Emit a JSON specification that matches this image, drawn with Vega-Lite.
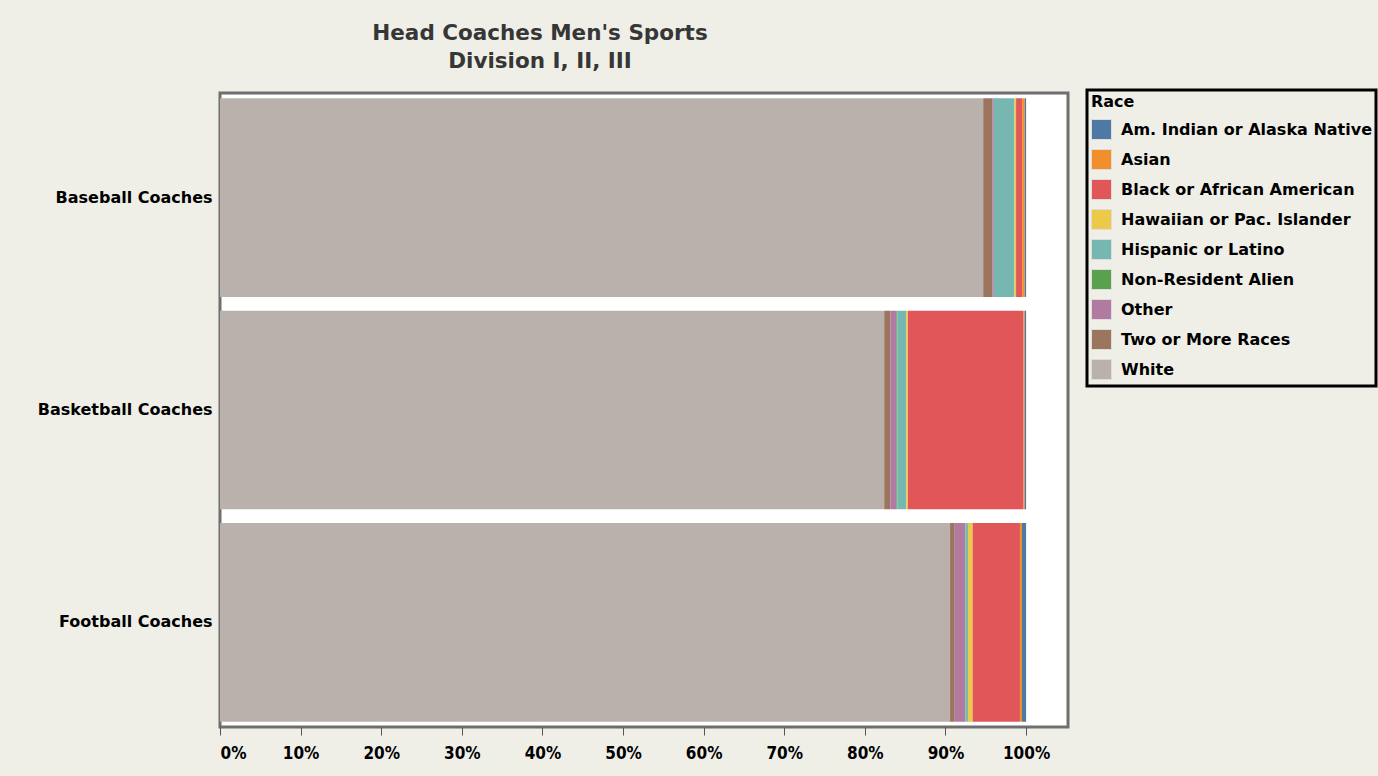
{
  "$schema": "https://vega.github.io/schema/vega-lite/v6.json",
  "width": 848,
  "height": 634,
  "autosize": "none",
  "padding": {"left": 220, "top": 93, "right": 310, "bottom": 49},
  "background": "#efefe8",
  "title": {
    "text": ["Head Coaches Men's Sports", "Division I, II, III"],
    "anchor": "middle",
    "frame": "group",
    "dx": -104,
    "offset": 16,
    "font": "DejaVu Sans",
    "fontSize": 21.5,
    "fontWeight": "bold",
    "color": "#363636",
    "lineHeight": 28
  },
  "data": {
    "values": [
      {"Sport": "Baseball Coaches", "Race": "White", "Share": 0.9468},
      {"Sport": "Baseball Coaches", "Race": "Two or More Races", "Share": 0.0116},
      {"Sport": "Baseball Coaches", "Race": "Other", "Share": 0.0016},
      {"Sport": "Baseball Coaches", "Race": "Hispanic or Latino", "Share": 0.0256},
      {"Sport": "Baseball Coaches", "Race": "Hawaiian or Pac. Islander", "Share": 0.002},
      {"Sport": "Baseball Coaches", "Race": "Black or African American", "Share": 0.0075},
      {"Sport": "Baseball Coaches", "Race": "Asian", "Share": 0.0033},
      {"Sport": "Baseball Coaches", "Race": "Am. Indian or Alaska Native", "Share": 0.0016},
      {"Sport": "Basketball Coaches", "Race": "White", "Share": 0.824},
      {"Sport": "Basketball Coaches", "Race": "Two or More Races", "Share": 0.0075},
      {"Sport": "Basketball Coaches", "Race": "Other", "Share": 0.0075},
      {"Sport": "Basketball Coaches", "Race": "Non-Resident Alien", "Share": 0.0012},
      {"Sport": "Basketball Coaches", "Race": "Hispanic or Latino", "Share": 0.0112},
      {"Sport": "Basketball Coaches", "Race": "Hawaiian or Pac. Islander", "Share": 0.002},
      {"Sport": "Basketball Coaches", "Race": "Black or African American", "Share": 0.1434},
      {"Sport": "Basketball Coaches", "Race": "Asian", "Share": 0.0016},
      {"Sport": "Basketball Coaches", "Race": "Am. Indian or Alaska Native", "Share": 0.0016},
      {"Sport": "Football Coaches", "Race": "White", "Share": 0.9057},
      {"Sport": "Football Coaches", "Race": "Two or More Races", "Share": 0.0058},
      {"Sport": "Football Coaches", "Race": "Other", "Share": 0.0128},
      {"Sport": "Football Coaches", "Race": "Non-Resident Alien", "Share": 0.0003},
      {"Sport": "Football Coaches", "Race": "Hispanic or Latino", "Share": 0.0033},
      {"Sport": "Football Coaches", "Race": "Hawaiian or Pac. Islander", "Share": 0.0058},
      {"Sport": "Football Coaches", "Race": "Black or African American", "Share": 0.0587},
      {"Sport": "Football Coaches", "Race": "Asian", "Share": 0.0025},
      {"Sport": "Football Coaches", "Race": "Am. Indian or Alaska Native", "Share": 0.0051}
    ]
  },
  "mark": {"type": "bar"},
  "encoding": {
    "y": {
      "field": "Sport",
      "type": "nominal",
      "sort": ["Baseball Coaches", "Basketball Coaches", "Football Coaches"],
      "scale": {"paddingInner": 0.065, "paddingOuter": 0.025},
      "axis": {
        "title": null,
        "ticks": false,
        "domain": false,
        "labelPadding": 8,
        "labelFont": "DejaVu Sans",
        "labelFontWeight": "bold",
        "labelFontSize": 16,
        "labelColor": "#000000"
      }
    },
    "x": {
      "field": "Share",
      "type": "quantitative",
      "stack": "zero",
      "scale": {"domain": [0, 1.052], "nice": false},
      "axis": {
        "title": null,
        "values": [0, 0.1, 0.2, 0.3, 0.4, 0.5, 0.6, 0.7, 0.8, 0.9, 1.0],
        "format": ".0%",
        "grid": false,
        "domain": false,
        "tickColor": "#555555",
        "tickSize": 8,
        "labelPadding": 10,
        "labelFont": "DejaVu Sans Condensed",
        "labelFontWeight": "bold",
        "labelFontSize": 17,
        "labelColor": "#000000",
        "labelFlush": true
      }
    },
    "color": {
      "field": "Race",
      "type": "nominal",
      "scale": {
        "domain": ["Am. Indian or Alaska Native", "Asian", "Black or African American", "Hawaiian or Pac. Islander", "Hispanic or Latino", "Non-Resident Alien", "Other", "Two or More Races", "White"],
        "range": ["#4e79a7", "#f28e2b", "#e15759", "#edc948", "#76b7b2", "#59a14f", "#b07aa1", "#9c755f", "#bab0ac"]
      },
      "legend": {
        "title": "Race",
        "orient": "none",
        "legendX": 867,
        "legendY": -3,
        "symbolType": "square",
        "symbolSize": 400,
        "symbolStrokeWidth": 1,
        "symbolStrokeColor": "#dddddd",
        "symbolOpacity": 1,
        "rowPadding": 5,
        "labelOffset": 9,
        "labelFont": "DejaVu Sans",
        "labelFontWeight": "bold",
        "labelFontSize": 16,
        "labelColor": "#000000",
        "labelLimit": 400,
        "titleFont": "DejaVu Sans",
        "titleFontWeight": "bold",
        "titleFontSize": 16,
        "titleColor": "#000000",
        "titlePadding": 9,
        "padding": 4
      }
    },
    "order": {"field": "Race", "sort": "descending"}
  },
  "config": {
    "view": {"fill": "#ffffff", "stroke": "#6f6f6f", "strokeWidth": 3},
    "legend": {"strokeColor": "#000000", "fillColor": "#efefe8", "strokeWidth": 3}
  }
}
